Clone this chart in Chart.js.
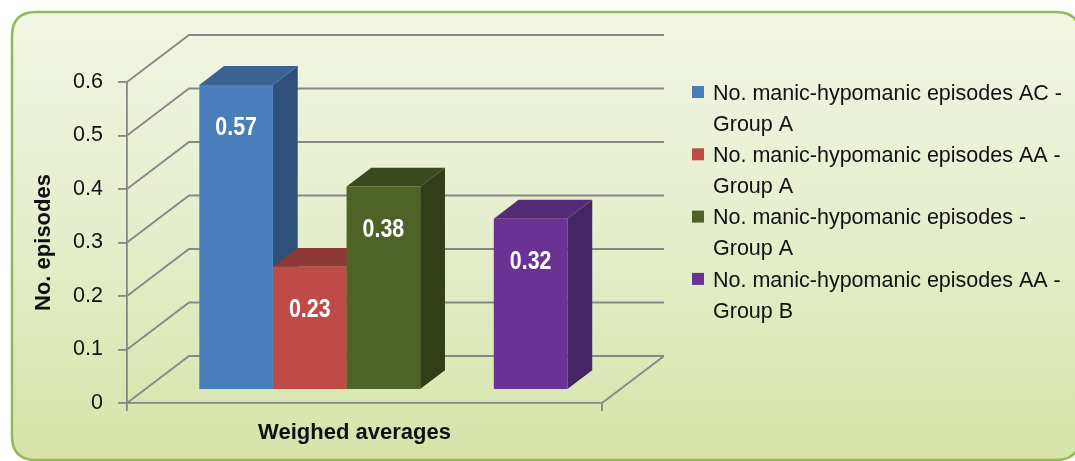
<!DOCTYPE html>
<html>
<head>
<meta charset="utf-8">
<script src="https://cdn.jsdelivr.net/npm/chart.js@4.4.1/dist/chart.umd.min.js"></script>
<style>
  html, body { margin: 0; padding: 0; background: #ffffff; }
  #wrap { width: 1075px; height: 461px; position: relative; }
</style>
</head>
<body>
<div id="wrap"><canvas id="c" width="1075" height="461"></canvas></div>
<script>
// ---- data ----
const categories = ['Weighed averages'];
const seriesNames = [
  ['No. manic-hypomanic episodes AC -', 'Group A'],
  ['No. manic-hypomanic episodes AA -', 'Group A'],
  ['No. manic-hypomanic episodes -', 'Group A'],
  ['No. manic-hypomanic episodes AA -', 'Group B']
];
const seriesValues = [0.57, 0.23, 0.38, 0.32];
const valueLabels = ['0.57', '0.23', '0.38', '0.32'];
// slot of each series inside the cluster (slot 3 is left empty)
const seriesSlots = [0, 1, 2, 4];
const slotCount = 5;
const yTickValues = [0, 0.1, 0.2, 0.3, 0.4, 0.5, 0.6];
const yAxisTitle = 'No. episodes';

// ---- styling ----
const frontColors = ['#4a7ebb', '#be4b48', '#4f6228', '#6a3293'];
const topColors   = ['#3a6393', '#8f3836', '#3b4a1e', '#552a78'];
const sideColors  = ['#2e5079', '#7a2e2c', '#313e17', '#472464'];
const GRID = '#878787';
const DEPTH = { dx: 62, dy: -47 };      // floor / back wall depth
const BAR_FRONT = 0.28, BAR_BACK = 0.68; // bar position inside the depth
const FONT = '"Liberation Sans", Arial, sans-serif';

// build one dataset per cluster slot
const datasets = [];
for (let s = 0; s < slotCount; s++) {
  const idx = seriesSlots.indexOf(s);
  datasets.push({
    label: idx >= 0 ? seriesNames[idx].join(' ') : '',
    data: [idx >= 0 ? seriesValues[idx] : null],
    backgroundColor: idx >= 0 ? frontColors[idx] : 'rgba(0,0,0,0)',
    seriesIndex: idx
  });
}

function roundRectPath(ctx, x, y, w, h, r) {
  ctx.beginPath();
  ctx.moveTo(x + r, y);
  ctx.lineTo(x + w - r, y);
  ctx.quadraticCurveTo(x + w, y, x + w, y + r);
  ctx.lineTo(x + w, y + h - r);
  ctx.quadraticCurveTo(x + w, y + h, x + w - r, y + h);
  ctx.lineTo(x + r, y + h);
  ctx.quadraticCurveTo(x, y + h, x, y + h - r);
  ctx.lineTo(x, y + r);
  ctx.quadraticCurveTo(x, y, x + r, y);
  ctx.closePath();
}

function poly(ctx, pts, color) {
  ctx.beginPath();
  ctx.moveTo(pts[0][0], pts[0][1]);
  for (let i = 1; i < pts.length; i++) ctx.lineTo(pts[i][0], pts[i][1]);
  ctx.closePath();
  ctx.fillStyle = color;
  ctx.fill();
}

const scene3d = {
  id: 'scene3d',
  beforeDraw(chart) {
    const ctx = chart.ctx;
    ctx.save();
    ctx.fillStyle = '#ffffff';
    ctx.fillRect(0, 0, chart.width, chart.height);
    const x0 = 12, y0 = 12, w = 1068, h = 448;
    const g = ctx.createLinearGradient(0, y0, 0, y0 + h);
    g.addColorStop(0, '#f2f6e4');
    g.addColorStop(0.5, '#e5eecb');
    g.addColorStop(1, '#d5e4a9');
    roundRectPath(ctx, x0, y0, w, h, 24);
    ctx.fillStyle = g;
    ctx.fill();
    ctx.lineWidth = 2.5;
    ctx.strokeStyle = '#94b855';
    ctx.stroke();
    ctx.restore();
  },
  beforeDatasetsDraw(chart) {
    const ctx = chart.ctx;
    const y = chart.scales.y;
    const { left, right, bottom } = chart.chartArea;
    ctx.save();
    ctx.strokeStyle = GRID;
    ctx.lineWidth = 1.8;
    ctx.beginPath();
    yTickValues.forEach(v => {
      const py = y.getPixelForValue(v);
      ctx.moveTo(left, py);
      ctx.lineTo(left + DEPTH.dx, py + DEPTH.dy);
      ctx.lineTo(right + DEPTH.dx, py + DEPTH.dy);
    });
    ctx.moveTo(right, bottom);
    ctx.lineTo(right + DEPTH.dx, bottom + DEPTH.dy);
    ctx.stroke();
    ctx.restore();
  },
  beforeDatasetDraw() {
    return false; // bars are drawn as solid blocks below
  },
  afterDatasetsDraw(chart) {
    const ctx = chart.ctx;
    const ox = DEPTH.dx * BAR_FRONT + 1.5, oy = DEPTH.dy * BAR_FRONT;
    const sdx = DEPTH.dx * (BAR_BACK - BAR_FRONT), sdy = DEPTH.dy * (BAR_BACK - BAR_FRONT);
    ctx.save();
    chart.data.datasets.forEach((ds, i) => {
      const k = ds.seriesIndex;
      if (k < 0 || ds.data[0] == null) return;
      const el = chart.getDatasetMeta(i).data[0];
      const p = el.getProps(['x', 'y', 'base', 'width'], true);
      const l = p.x - p.width / 2 + ox, r = p.x + p.width / 2 + ox;
      const t = p.y + oy, b = p.base + oy;
      poly(ctx, [[r, t], [r + sdx, t + sdy], [r + sdx, b + sdy], [r, b]], sideColors[k]);
      poly(ctx, [[l, t], [l + sdx, t + sdy], [r + sdx, t + sdy], [r, t]], topColors[k]);
      poly(ctx, [[l, t], [r, t], [r, b], [l, b]], frontColors[k]);
      // value label
      ctx.save();
      ctx.translate((l + r) / 2, t + 50);
      ctx.scale(0.82, 1);
      ctx.font = 'bold 26px ' + FONT;
      ctx.fillStyle = '#ffffff';
      ctx.textAlign = 'center';
      ctx.textBaseline = 'alphabetic';
      ctx.fillText(valueLabels[k], 0, 0);
      ctx.restore();
    });
    ctx.restore();
  },
  afterDraw(chart) {
    // legend
    const ctx = chart.ctx;
    ctx.save();
    ctx.font = '21.5px ' + FONT;
    ctx.textBaseline = 'alphabetic';
    ctx.textAlign = 'left';
    seriesNames.forEach((lines, k) => {
      const cy = 92 + k * 62.3;
      ctx.fillStyle = frontColors[k];
      ctx.fillRect(692, cy - 6, 12, 12);
      ctx.fillStyle = '#111111';
      lines.forEach((line, j) => {
        ctx.fillText(line, 713, cy + j * 31 + 7.7);
      });
    });
    ctx.restore();
  }
};

new Chart(document.getElementById('c'), {
  type: 'bar',
  data: { labels: categories, datasets },
  options: {
    responsive: false,
    devicePixelRatio: 1,
    animation: false,
    events: [],
    layout: { padding: { left: 0, top: 82, right: 473, bottom: 0 } },
    datasets: { bar: { categoryPercentage: 0.775, barPercentage: 1.0 } },
    plugins: { legend: { display: false }, tooltip: { enabled: false } },
    scales: {
      x: {
        type: 'category',
        offset: true,
        grid: { display: true, drawOnChartArea: false, offset: true, tickLength: 8, color: GRID, lineWidth: 1.8 },
        border: { display: true, color: GRID, width: 1.8 },
        ticks: { maxRotation: 0, padding: 9, labelOffset: -10, color: '#111111', font: { family: FONT, size: 22, weight: 'bold' } },
        afterFit(scale) { scale.height = 58; }
      },
      y: {
        min: 0,
        max: 0.6,
        afterBuildTicks(scale) { scale.ticks = yTickValues.map(v => ({ value: v })); },
        grid: { display: true, drawOnChartArea: false, tickLength: 9, color: GRID, lineWidth: 1.8 },
        border: { display: true, color: GRID, width: 1.8 },
        ticks: { padding: 15, color: '#111111', font: { family: FONT, size: 21.5 }, callback: v => String(Math.round(v * 10) / 10) },
        title: { display: true, text: yAxisTitle, color: '#111111', padding: { top: 31, bottom: 0 }, font: { family: FONT, size: 22, weight: 'bold' } },
        afterFit(scale) { scale.width = 127; }
      }
    }
  },
  plugins: [scene3d]
});
</script>
</body>
</html>
